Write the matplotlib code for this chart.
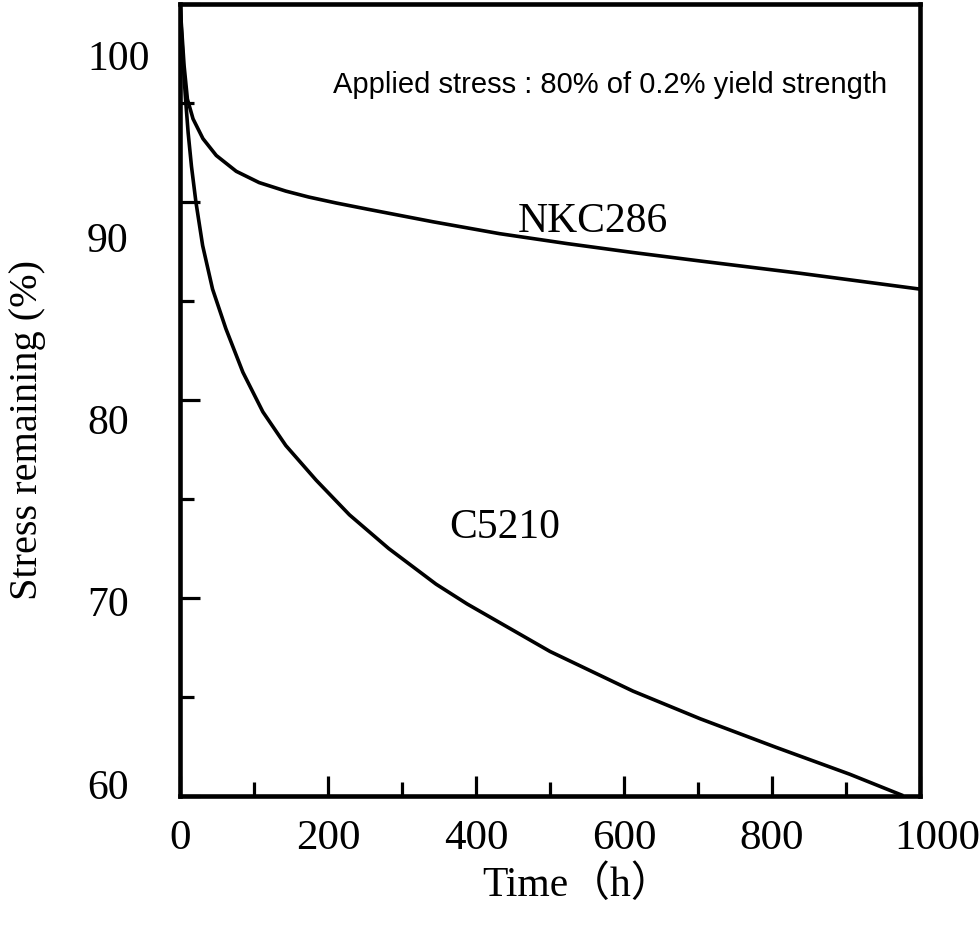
import matplotlib
matplotlib.use("Agg")
import matplotlib.pyplot as plt
from matplotlib.ticker import MultipleLocator, FixedLocator
import matplotlib.transforms as mtransforms

# ---- data ----
c5210_t = [0, 2, 4.5, 7.5, 11, 15.5, 21.5, 30.6, 44, 62, 85, 112, 143, 184, 229, 282, 346, 388,
           500, 612, 703, 806, 905, 975]
c5210_v = [100, 98.6, 96.9, 95.2, 93.5, 91.8, 90.0, 87.8, 85.6, 83.6, 81.4, 79.4, 77.7, 75.95, 74.2,
           72.5, 70.7, 69.7, 67.3, 65.3, 63.9, 62.45, 61.1, 60.05]

nkc286_t = [0, 2.5, 5.5, 10, 17.6, 31, 49, 76, 107, 143, 174, 211, 253, 342, 432, 523, 612, 703, 838, 1000]
nkc286_v = [100, 98.6, 96.9, 95.2, 94.2, 93.2, 92.35, 91.55, 90.98, 90.55, 90.25, 89.95, 89.64, 89.0,
            88.4, 87.9, 87.45, 87.02, 86.4, 85.6]

x_ticks = [0, 200, 400, 600, 800, 1000]
y_tick_labels = [60, 70, 80, 90, 100]

serif = ["Liberation Serif", "DejaVu Serif"]

fig = plt.figure(figsize=(9.8, 9.28), dpi=100)
ax = fig.add_axes([180/980, (928-797)/928, 740/980, 792/928])

ax.plot(c5210_t, c5210_v, color="black", lw=2.6, solid_joinstyle="round")
ax.plot(nkc286_t, nkc286_v, color="black", lw=2.6, solid_joinstyle="round")

ax.set_xlim(0, 1000)
ax.set_ylim(60, 100)

for s in ax.spines.values():
    s.set_linewidth(3.3)

ax.xaxis.set_major_locator(FixedLocator(x_ticks))
ax.xaxis.set_minor_locator(MultipleLocator(100))
ax.yaxis.set_major_locator(MultipleLocator(10))
ax.yaxis.set_minor_locator(MultipleLocator(5))
ax.tick_params(which="major", direction="in", length=14.5, width=2.3)
ax.tick_params(which="minor", direction="in", length=10, width=2.3)
ax.tick_params(axis="y", which="both", labelleft=False)
ax.tick_params(axis="x", which="major", pad=16, labelsize=31)
for lbl in ax.get_xticklabels():
    lbl.set_family(serif)
# shift last x label slightly right like the reference
labels = ax.get_xticklabels()
labels[-1].set_transform(labels[-1].get_transform() +
                         mtransforms.ScaledTranslation(17/100, 0, fig.dpi_scale_trans))

# y tick labels (evenly spaced as in the reference) on an invisible twin scale
ax2 = ax.twinx()
ax2.set_ylim(60 - 13/18.23, 60 + 779/18.23)
ax2.yaxis.tick_left()
ax2.set_yticks(y_tick_labels)
ax2.set_yticklabels([str(v) for v in y_tick_labels], family=serif, fontsize=30, ha="left")
ax2.tick_params(axis="y", length=0, pad=67)
for s in ax2.spines.values():
    s.set_visible(False)
ax2.tick_params(axis="x", which="both", bottom=False, labelbottom=False)

# axis titles
fig.text(577/980, 1 - 885/928, "Time（h）", ha="center", va="center",
         fontsize=30, family=["Liberation Serif", "Noto Sans CJK JP"])
fig.text(28/980, 1 - 430/928, "Stress remaining (%)", ha="center", va="center",
         rotation=90, fontsize=29, family=serif)

# annotations
ax.text(0.581, 0.899, "Applied stress : 80% of 0.2% yield strength", transform=ax.transAxes,
        ha="center", va="center", fontsize=21, family=["Liberation Sans", "DejaVu Sans"])
ax.text(0.558, 0.7134, "NKC286", transform=ax.transAxes, ha="center", va="baseline",
        fontsize=30, family=serif)
ax.text(0.439, 0.327, "C5210", transform=ax.transAxes, ha="center", va="baseline",
        fontsize=30, family=serif)

fig.savefig("out.png", dpi=100)
